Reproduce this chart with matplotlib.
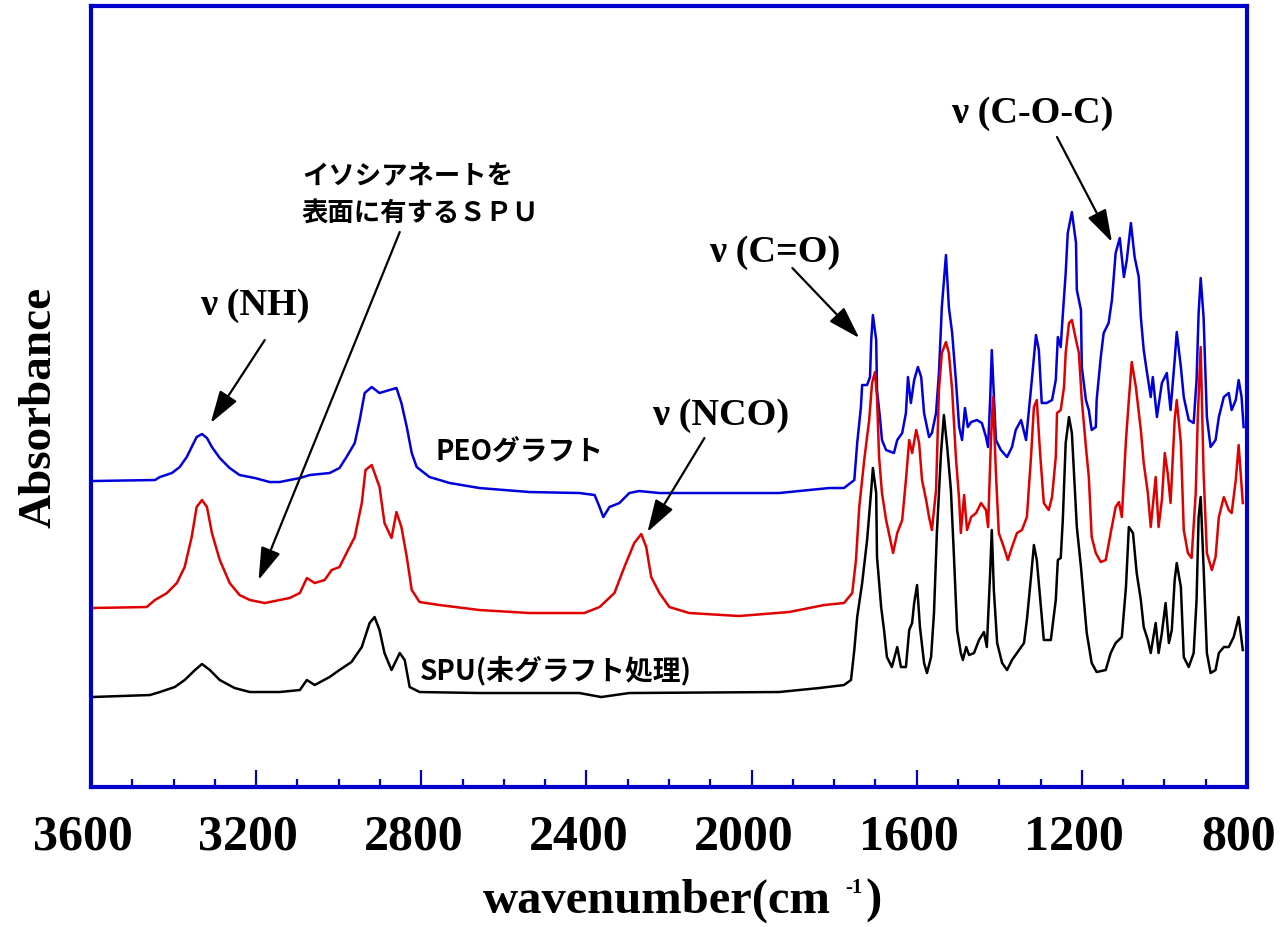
import matplotlib
matplotlib.use("Agg")
import matplotlib.pyplot as plt
from matplotlib.ticker import MultipleLocator
from matplotlib.transforms import ScaledTranslation

# ---------------- data ----------------
blue_wn = [3598, 3445, 3433, 3404, 3385, 3368, 3356, 3344, 3331, 3319, 3307, 3288, 3264, 3240,
           3203, 3167, 3143, 3094, 3070, 3022, 2998, 2981, 2961, 2949, 2937, 2920, 2901, 2877,
           2860, 2848, 2835, 2823, 2811, 2780, 2731, 2659, 2538, 2417, 2380, 2368, 2359, 2344,
           2320, 2296, 2272, 2223, 1933, 1812, 1776, 1751, 1744, 1735, 1732, 1720, 1713, 1710,
           1706, 1698, 1696, 1689, 1684, 1674, 1655, 1647, 1635, 1626, 1621, 1614, 1606, 1597,
           1589, 1582, 1570, 1563, 1553, 1546, 1539, 1529, 1522, 1514, 1505, 1497, 1490, 1483,
           1476, 1468, 1454, 1442, 1432, 1427, 1422, 1418, 1408, 1396, 1381, 1369, 1360, 1347,
           1335, 1328, 1321, 1311, 1304, 1297, 1285, 1272, 1263, 1258, 1251, 1248, 1239, 1234,
           1224, 1214, 1212, 1202, 1200, 1190, 1183, 1176, 1166, 1164, 1154, 1147, 1135, 1127,
           1118, 1108, 1098, 1091, 1081, 1072, 1062, 1057, 1050, 1043, 1033, 1028, 1018, 1006,
           994, 985, 975, 970, 960, 953, 941, 929, 922, 917, 912, 905, 897, 888, 876, 868, 856,
           844, 837, 827, 820, 813, 808]
blue_abs = [3.06, 3.07, 3.10, 3.14, 3.20, 3.30, 3.40, 3.50, 3.53, 3.49, 3.40, 3.29, 3.19, 3.12,
            3.09, 3.05, 3.05, 3.09, 3.12, 3.14, 3.19, 3.30, 3.44, 3.67, 3.94, 4.00, 3.94, 3.97,
            3.99, 3.84, 3.60, 3.34, 3.20, 3.10, 3.04, 2.99, 2.95, 2.94, 2.92, 2.80, 2.70, 2.80,
            2.84, 2.94, 2.96, 2.94, 2.94, 2.99, 2.99, 3.07, 3.44, 3.80, 4.02, 4.02, 4.10, 4.47,
            4.72, 4.47, 3.97, 3.70, 3.47, 3.37, 3.34, 3.47, 3.54, 3.74, 4.10, 3.84, 4.07, 4.20,
            4.10, 3.74, 3.50, 3.54, 3.74, 4.14, 4.80, 5.32, 4.80, 4.54, 4.07, 3.60, 3.47, 3.79,
            3.60, 3.65, 3.67, 3.64, 3.50, 3.40, 3.87, 4.37, 3.47, 3.37, 3.30, 3.40, 3.57, 3.67,
            3.47, 3.77, 4.07, 4.52, 4.37, 3.84, 3.84, 3.87, 4.07, 4.50, 4.40, 4.60, 5.14, 5.54,
            5.75, 5.44, 4.97, 4.77, 4.20, 3.87, 3.77, 3.57, 3.60, 3.87, 4.30, 4.54, 4.64, 4.87,
            5.34, 5.49, 5.10, 5.27, 5.64, 5.30, 5.10, 4.70, 4.37, 4.17, 3.90, 4.10, 3.70, 4.04,
            4.14, 3.77, 4.27, 4.55, 4.20, 3.90, 3.67, 3.64, 4.07, 4.74, 5.09, 4.70, 3.70, 3.40,
            3.47, 3.70, 3.90, 3.94, 3.77, 3.87, 4.07, 3.90, 3.60]

red_wn = [3598, 3465, 3445, 3416, 3392, 3373, 3356, 3344, 3331, 3319, 3307, 3288, 3264, 3240,
          3215, 3179, 3143, 3119, 3094, 3077, 3058, 3034, 3017, 2998, 2981, 2961, 2944, 2935,
          2920, 2901, 2889, 2872, 2860, 2848, 2835, 2823, 2804, 2756, 2659, 2538, 2405, 2368,
          2332, 2308, 2284, 2267, 2255, 2243, 2223, 2199, 2151, 2030, 1909, 1824, 1776, 1756,
          1747, 1739, 1727, 1715, 1708, 1701, 1696, 1691, 1684, 1674, 1662, 1657, 1647, 1635,
          1626, 1618, 1611, 1601, 1594, 1587, 1577, 1570, 1563, 1553, 1546, 1539, 1529, 1522,
          1514, 1505, 1497, 1493, 1485, 1478, 1468, 1456, 1444, 1432, 1427, 1420, 1415, 1408,
          1401, 1389, 1379, 1369, 1357, 1345, 1333, 1323, 1316, 1309, 1301, 1292, 1280, 1272,
          1263, 1260, 1251, 1243, 1239, 1231, 1224, 1214, 1207, 1200, 1190, 1183, 1176, 1166,
          1154, 1142, 1130, 1118, 1110, 1103, 1093, 1086, 1079, 1069, 1057, 1050, 1040, 1033,
          1021, 1014, 1006, 999, 992, 985, 975, 970, 960, 953, 943, 934, 924, 919, 912, 905,
          897, 885, 876, 868, 856, 844, 837, 827, 820, 810]
red_abs = [1.79, 1.80, 1.87, 1.94, 2.04, 2.20, 2.50, 2.80, 2.87, 2.80, 2.54, 2.27, 2.04, 1.92,
           1.87, 1.84, 1.87, 1.89, 1.94, 2.09, 2.04, 2.07, 2.17, 2.20, 2.34, 2.50, 2.84, 3.17,
           3.22, 3.00, 2.64, 2.49, 2.75, 2.60, 2.30, 1.97, 1.85, 1.82, 1.77, 1.74, 1.74, 1.80,
           1.94, 2.20, 2.44, 2.53, 2.40, 2.10, 1.94, 1.80, 1.74, 1.71, 1.75, 1.82, 1.84, 1.94,
           2.27, 2.80, 3.27, 3.67, 4.04, 4.15, 3.90, 3.30, 2.94, 2.67, 2.44, 2.34, 2.54, 2.67,
           3.07, 3.47, 3.34, 3.57, 3.44, 3.07, 2.87, 2.70, 2.57, 2.97, 3.97, 4.34, 4.45, 4.34,
           3.97, 3.30, 2.87, 2.54, 2.92, 2.57, 2.70, 2.74, 2.84, 2.77, 2.60, 3.47, 3.90, 3.14,
           2.54, 2.40, 2.27, 2.40, 2.54, 2.57, 2.70, 3.30, 3.80, 3.87, 3.34, 2.84, 2.77, 2.90,
           3.30, 3.74, 3.77, 4.00, 4.34, 4.64, 4.67, 4.47, 4.34, 3.87, 3.40, 3.10, 2.50, 2.34,
           2.25, 2.27, 2.54, 2.80, 2.85, 2.70, 3.47, 3.87, 4.25, 4.00, 3.57, 3.24, 2.94, 2.60,
           3.10, 2.60, 2.87, 3.34, 3.14, 2.84, 3.67, 3.87, 3.44, 2.57, 2.34, 2.29, 2.94, 3.70,
           4.40, 3.14, 2.34, 2.17, 2.30, 2.70, 2.90, 2.77, 2.74, 3.07, 3.42, 2.84]

black_wn = [3598, 3457, 3433, 3397, 3373, 3348, 3331, 3312, 3288, 3252, 3215, 3143, 3094, 3077,
            3058, 3022, 2998, 2969, 2944, 2925, 2913, 2901, 2889, 2872, 2852, 2840, 2828, 2804,
            2659, 2417, 2364, 2296, 1933, 1836, 1776, 1759, 1751, 1744, 1732, 1720, 1710, 1706,
            1698, 1696, 1686, 1679, 1672, 1660, 1647, 1638, 1626, 1618, 1611, 1606, 1599, 1592,
            1582, 1575, 1565, 1558, 1551, 1541, 1534, 1526, 1517, 1510, 1502, 1493, 1488, 1480,
            1473, 1461, 1449, 1437, 1430, 1422, 1418, 1413, 1405, 1393, 1381, 1369, 1357, 1340,
            1333, 1323, 1316, 1309, 1299, 1292, 1275, 1263, 1258, 1251, 1246, 1239, 1231, 1224,
            1217, 1212, 1202, 1195, 1188, 1176, 1164, 1142, 1130, 1118, 1103, 1093, 1086, 1076,
            1067, 1057, 1050, 1040, 1033, 1021, 1014, 1006, 997, 989, 982, 975, 970, 960, 953,
            941, 929, 922, 917, 912, 905, 897, 888, 876, 868, 856, 844, 832, 820, 810]
black_abs = [0.90, 0.92, 0.95, 1.00, 1.07, 1.17, 1.23, 1.17, 1.07, 0.99, 0.95, 0.95, 0.97, 1.07,
             1.02, 1.10, 1.17, 1.25, 1.40, 1.64, 1.70, 1.57, 1.34, 1.17, 1.34, 1.27, 1.00, 0.95,
             0.94, 0.94, 0.90, 0.94, 0.95, 0.99, 1.02, 1.07, 1.37, 1.70, 2.04, 2.47, 2.97, 3.19,
             2.94, 2.30, 1.80, 1.57, 1.30, 1.20, 1.40, 1.20, 1.20, 1.57, 1.64, 1.84, 2.02, 1.60,
             1.24, 1.14, 1.30, 1.74, 2.54, 3.34, 3.72, 3.40, 2.97, 2.34, 1.57, 1.34, 1.27, 1.40,
             1.32, 1.34, 1.47, 1.55, 1.40, 2.14, 2.57, 1.97, 1.44, 1.24, 1.17, 1.27, 1.34, 1.44,
             1.67, 2.10, 2.42, 2.27, 1.80, 1.47, 1.47, 1.87, 2.27, 2.29, 2.67, 3.44, 3.70, 3.54,
             3.00, 2.60, 2.20, 1.87, 1.54, 1.24, 1.15, 1.17, 1.34, 1.44, 1.50, 2.00, 2.60, 2.54,
             2.14, 1.87, 1.60, 1.47, 1.34, 1.64, 1.34, 1.54, 1.84, 1.44, 1.57, 2.07, 2.24, 2.00,
             1.30, 1.20, 1.34, 1.87, 2.70, 2.90, 2.20, 1.34, 1.14, 1.17, 1.34, 1.40, 1.40, 1.50,
             1.70, 1.37]

x_major = [3600, 3200, 2800, 2400, 2000, 1600, 1200, 800]
x_tick_labels = ['3600', '3200', '2800', '2400', '2000', '1600', '1200', '800']

label_peo = 'PEOグラフト'
label_spu = 'SPU(未グラフト処理)'
label_iso = 'イソシアネートを\n表面に有するＳＰＵ'

# ---------------- figure ----------------
FRAME = '#0000cc'
W, H = 1281, 927
fig = plt.figure(figsize=(12.81, 9.27), dpi=100)
ax = fig.add_axes([0.0710, 0.1510, 0.9024, 0.8425])

ax.plot(blue_wn, blue_abs, color='#0000dd', lw=1.8)
ax.plot(red_wn, red_abs, color='#e00000', lw=1.8)
ax.plot(black_wn, black_abs, color='black', lw=1.8)

ax.set_xlim(3600, 800)
ax.set_ylim(0, 7.81)

for s in ax.spines.values():
    s.set_color(FRAME)
    s.set_linewidth(3)

ax.set_yticks([])
ax.set_xticks(x_major)
ax.set_xticklabels(x_tick_labels, fontfamily='Liberation Serif', fontweight='bold', fontsize=36)
ax.xaxis.set_minor_locator(MultipleLocator(100))
ax.tick_params(axis='x', which='major', direction='in', length=12, width=1.6, color=FRAME, pad=20)
ax.tick_params(axis='x', which='minor', direction='in', length=6, width=1.6, color=FRAME)
shift = ScaledTranslation(-0.08, 0, fig.dpi_scale_trans)
for lab in ax.get_xticklabels():
    lab.set_transform(lab.get_transform() + shift)

# x label built in pieces: main text, small superscript, closing parenthesis
serif_big = dict(fontfamily='Liberation Serif', fontweight='bold', fontsize=35)
t_main = fig.text(483 / W, 1 - 913 / H, 'wavenumber(cm', ha='left', va='baseline', **serif_big)
renderer = fig.canvas.get_renderer()
bb = t_main.get_window_extent(renderer)
t_sup = fig.text((bb.x1 + 14) / W, 1 - 893 / H, '-1', ha='left', va='baseline',
                 fontfamily='Liberation Serif', fontweight='bold', fontsize=15)
bb2 = t_sup.get_window_extent(renderer)
fig.text((bb2.x1 + 3) / W, 1 - 913 / H, ')', ha='left', va='baseline', **serif_big)

fig.text(40 / W, 1 - 407 / H, 'Absorbance', ha='center', va='center', rotation=90,
         fontfamily='Liberation Serif', fontweight='bold', fontsize=34)

serif = dict(fontfamily='Liberation Serif', fontweight='bold', fontsize=27.5, ha='center', va='center')
jp = ['Noto Sans CJK JP', 'DejaVu Sans']

arrow = dict(arrowstyle='-|>,head_length=0.8,head_width=0.25', lw=1.6, color='black',
             mutation_scale=25, shrinkA=0, shrinkB=0)

# peak labels
ax.text(3203, 4.82, 'ν (NH)', **serif)
ax.annotate('', xy=(3310, 3.64), xytext=(3179, 4.47), arrowprops=arrow)

ax.text(2076, 3.72, 'ν (NCO)', **serif)
ax.annotate('', xy=(2252, 2.55), xytext=(2114, 3.49), arrowprops=arrow)

ax.text(1945, 5.35, 'ν (C=O)', **serif)
ax.annotate('', xy=(1739, 4.49), xytext=(1901, 5.19), arrowprops=arrow)

ax.text(1321, 6.74, 'ν (C-O-C)', **serif)
ax.annotate('', xy=(1127, 5.45), xytext=(1260, 6.50), arrowprops=arrow)

# Japanese labels
ax.text(3089, 5.92, label_iso, ha='left', va='center', family=jp, fontweight='bold',
        fontsize=19, linespacing=1.45)
ax.annotate('', xy=(3194, 2.07), xytext=(2852, 5.55), arrowprops=arrow)

ax.text(2562, 3.35, label_peo, ha='center', va='center', family=jp, fontweight='bold', fontsize=20)
ax.text(2475, 1.17, label_spu, ha='center', va='center', family=jp, fontweight='bold', fontsize=20)

fig.savefig('out.png', dpi=100)
